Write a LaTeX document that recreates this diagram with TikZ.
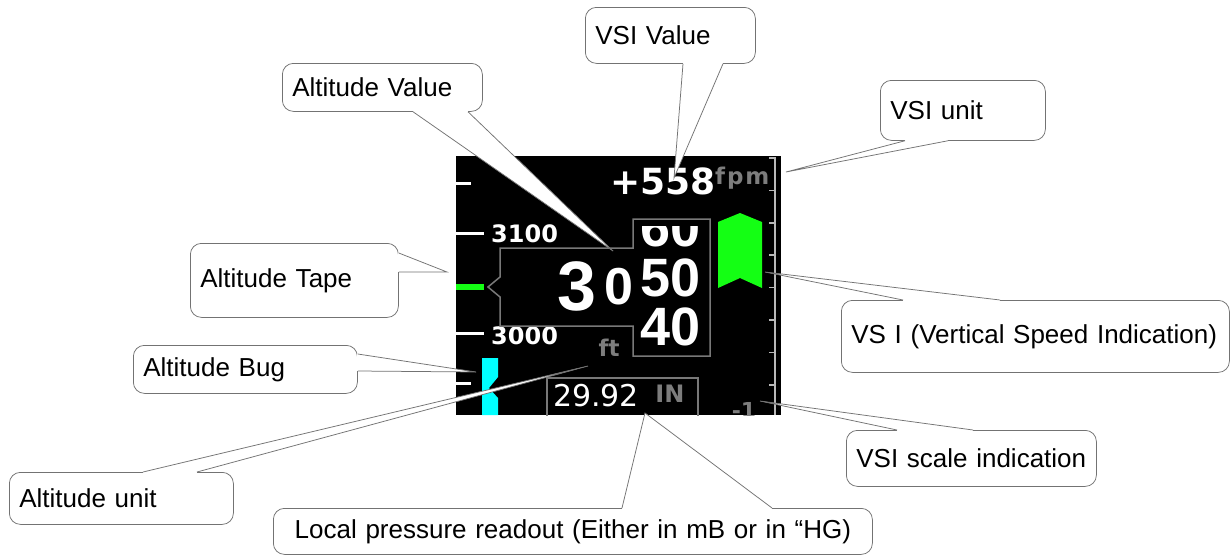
\documentclass[tikz,border=0pt]{standalone}
\usepackage{fontspec}
\setmainfont{Liberation Sans}
\newfontfamily\dejavu{DejaVu Sans}
\newfontfamily\dejavuwide{DejaVu Sans}[LetterSpace=8]
\usetikzlibrary{calc}
\definecolor{coline}{RGB}{115,115,115}
\definecolor{dispgray}{RGB}{125,125,125}
\definecolor{boxgray}{RGB}{120,120,120}
\definecolor{scalegray}{RGB}{185,185,185}
\definecolor{vgreen}{RGB}{20,255,20}
\definecolor{bugcyan}{RGB}{0,255,255}
\newcommand\cowedge[3]{%
  \fill[white] (#1) -- (#2) -- (#3) -- cycle;
  \draw[white, line width=2pt] (#1) -- (#3);
  \draw[coline, line width=0.75pt] (#1) -- (#2) -- (#3);}
\tikzset{
  cobox/.style={draw=coline, fill=white, line width=0.75pt, rounded corners=11pt,
    anchor=north west, inner xsep=10pt, inner ysep=0pt, align=left,
    font=\fontsize{26}{30}\selectfont},
  dtext/.style={inner sep=0pt, text=white},
  tapetick/.style={white, line width=3pt},
  vsitick/.style={scalegray, line width=1.5pt},
  outline/.style={boxgray, line width=1.5pt}
}
\begin{document}
\begin{tikzpicture}[x=1pt,y=-1pt]
\useasboundingbox (0,0) rectangle (1232,555);
\fill[white] (0,0) rectangle (1232,555);
% ---------------- display ----------------
\fill[black] (456,156) rectangle (781,415);
\begin{scope}
\clip (456,156) rectangle (781,415);
% altitude tape
\draw[tapetick] (456,183) -- (471,183);
\draw[tapetick] (456,233) -- (484,233);
\draw[tapetick] (456,333) -- (484,333);
\draw[tapetick] (456,383) -- (471,383);
\node[dtext, anchor=west, font=\dejavu\bfseries\fontsize{24}{28}\selectfont] (t3100) at (491,234) {3100};
\node[dtext, anchor=west, font=\dejavu\bfseries\fontsize{24}{28}\selectfont] (t3000) at (491,336) {3000};
\fill[vgreen] (456,284) rectangle (484,290);
% altitude bug
\fill[bugcyan] (482,358) -- (498,358) -- (498,377) -- (489,388) -- (498,398) -- (498,415) -- (482,415) -- cycle;
% altitude window
\draw[outline, fill=black] (500,248) -- (633,248) -- (633,219) -- (710,219) -- (710,356) -- (633,356) -- (633,326) -- (500,326) -- (500,297) -- (488,287) -- (500,277) -- cycle;
\node[dtext, font=\bfseries\fontsize{70}{80}\selectfont] (big3) at (577,286) {3};
\node[dtext, font=\bfseries\fontsize{52}{58}\selectfont] (mid0) at (619,287) {0};
\node[dtext, font=\bfseries\fontsize{54}{60}\selectfont] (r50) at (671,278) {50};
\node[dtext, font=\bfseries\fontsize{54}{60}\selectfont] (r40) at (671,327) {40};
\begin{scope}
\clip (634,226) rectangle (709,355);
\node[dtext, font=\bfseries\fontsize{54}{60}\selectfont] (r60) at (671,228) {60};
\end{scope}
\node[dtext, text=dispgray, anchor=base, font=\dejavu\bfseries\fontsize{23}{26}\selectfont] (ft) at (609,356) {ft};
% vertical speed
\node[dtext, font=\dejavu\bfseries\fontsize{36}{40}\selectfont] (vsiv) at (663,181) {+558};
\node[dtext, text=dispgray, anchor=base west, font=\dejavuwide\bfseries\fontsize{23}{26}\selectfont] (fpm) at (715,184) {fpm};
\draw[vsitick] (769,158) -- (775,158) -- (775,415);
\foreach \yy in {190.4,222.8,255.2,287.6,320,352.4,384.8}
  \draw[vsitick] (769,\yy) -- (775,\yy);
\fill[vgreen] (718,222) -- (740,213) -- (762,222) -- (762,288) -- (740,278) -- (718,288) -- cycle;
% pressure
\draw[outline] (547,378) rectangle (698,420);
\node[dtext, font=\dejavu\fontsize{30}{34}\selectfont] (baro) at (596,396) {29.92};
\node[dtext, text=dispgray, font=\dejavu\bfseries\fontsize{24}{28}\selectfont] (inunit) at (670,394) {IN};
\node[dtext, text=dispgray, font=\dejavu\bfseries\fontsize{22}{26}\selectfont] (scalelab) at (744,410) {-1};
\end{scope}
% ---------------- callouts ----------------
\coordinate (tipVSIval) at (674,178);
\coordinate (tipAltval) at (613,251);
\coordinate (tipVSIunit) at (786,172);
\coordinate (tipTape) at (447,272);
\coordinate (tipBug) at (476,372);
\coordinate (tipUnit) at (588,366);
\coordinate (tipVSI) at (765,272);
\coordinate (tipScale) at (760,401);
\coordinate (tipBaro) at (645,413);

\node[cobox, minimum width=170pt, minimum height=56pt, text width=150pt] (vsival) at (585,7) {VSI Value};
\node[cobox, minimum width=200pt, minimum height=48pt, text width=180pt] (altval) at (282,63) {Altitude Value};
\node[cobox, minimum width=165pt, minimum height=60pt, text width=145pt] (vsiunit) at (880,80) {VSI unit};
\node[cobox, minimum width=208pt, minimum height=74pt, text width=188pt] (alttape) at (190,243) {Altitude Tape};
\node[cobox, minimum width=224pt, minimum height=48pt, text width=204pt] (altbug) at (133,345) {Altitude Bug};
\node[cobox, minimum width=224pt, minimum height=52pt, text width=204pt] (altunit) at (9,472) {Altitude unit};
\node[cobox, minimum width=388pt, minimum height=72pt, text width=368pt] (vsind) at (841,300) {VS I (Vertical Speed Indication)};
\node[cobox, minimum width=250pt, minimum height=56pt, text width=230pt] (vsiscale) at (846,430) {VSI scale indication};
\node[cobox, minimum width=599pt, minimum height=46pt, text width=579pt, align=center] (baroco) at (273,508) {Local pressure readout (Either in mB or in “HG)};

\cowedge{$(vsival.south west)+(98,0)$}{tipVSIval}{$(vsival.south west)+(138,0)$}
\cowedge{$(altval.south west)+(131,0)$}{tipAltval}{$(altval.south west)+(186,0)$}
\cowedge{$(vsiunit.south west)+(25,0)$}{tipVSIunit}{$(vsiunit.south west)+(68,0)$}
\cowedge{$(alttape.north east)+(0,10)$}{tipTape}{$(alttape.north east)+(0,29)$}
\cowedge{$(altbug.north east)+(0,9)$}{tipBug}{$(altbug.north east)+(0,26)$}
\cowedge{$(altunit.north west)+(134,0)$}{tipUnit}{$(altunit.north west)+(188,0)$}
\cowedge{$(vsind.north west)+(62,0)$}{tipVSI}{$(vsind.north west)+(159,0)$}
\cowedge{$(vsiscale.north west)+(51,0)$}{tipScale}{$(vsiscale.north west)+(127,0)$}
\cowedge{$(baroco.north west)+(349,0)$}{tipBaro}{$(baroco.north west)+(499,0)$}
\end{tikzpicture}
\end{document}
